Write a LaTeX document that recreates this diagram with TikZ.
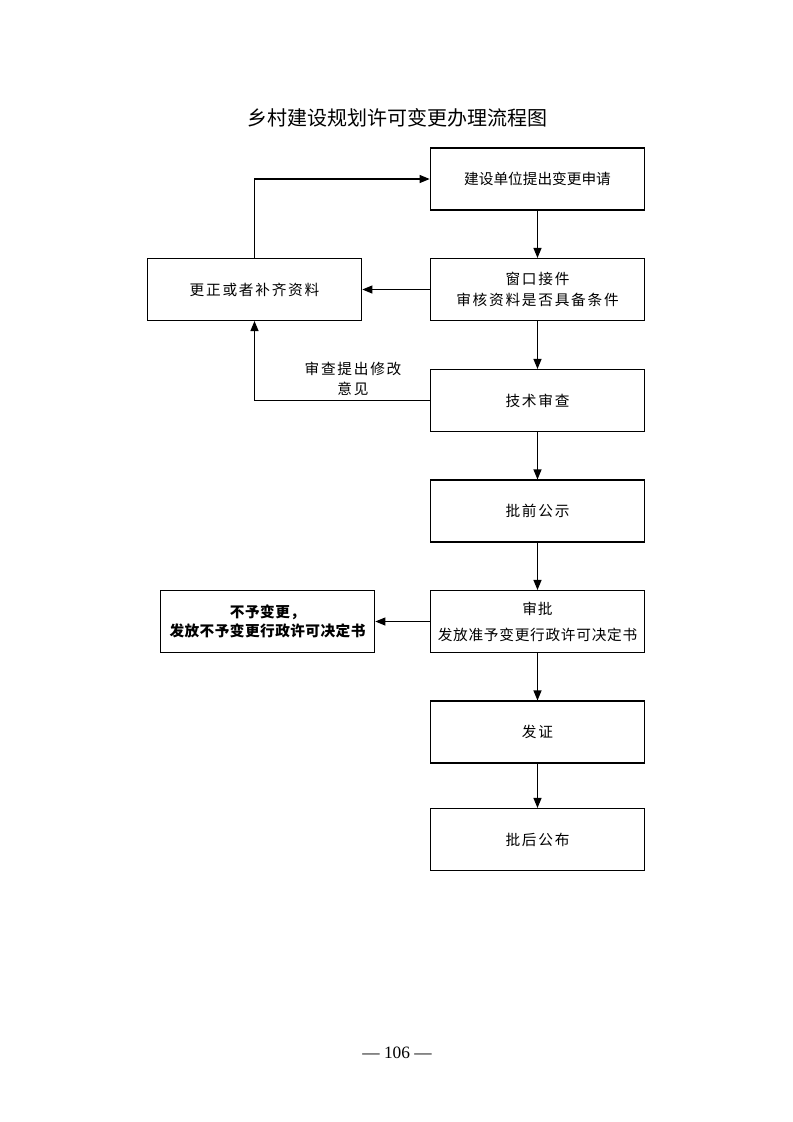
\documentclass[tikz,border=0pt]{standalone}
\usepackage{fontspec}
\setmainfont{Liberation Serif}
\newfontfamily\cjk{Noto Sans CJK SC}
\usetikzlibrary{arrows.meta}

\begin{document}
\begin{tikzpicture}[x=0.75pt,y=-0.75pt,
  flowbox/.style={draw,line width=0.8pt,minimum width=161pt,minimum height=46.5pt,
    align=center,font=\cjk\addfontfeature{LetterSpace=12}\fontsize{11}{15.5}\selectfont},
  flowarrow/.style={line width=0.8pt,-{Triangle[length=7.5pt,width=6pt]}}]
\useasboundingbox (0,0) rectangle (793,1122);
\node[font=\cjk\fontsize{15}{18}\selectfont] (title) at (397,118) {乡村建设规划许可变更办理流程图};

% main column
\node[flowbox,font=\cjk\fontsize{11}{15.5}\selectfont] (apply) at (537.5,179) {建设单位提出变更申请};
\node[flowbox] (check) at (537.5,289.5) {窗口接件\\审核资料是否具备条件};
\node[flowbox] (review) at (537.5,400.5) {技术审查};
\node[flowbox] (notice) at (537.5,511) {批前公示};
\node[flowbox,font=\cjk\addfontfeature{LetterSpace=5}\fontsize{11}{15.5}\selectfont] (approve) at (537.5,621.5) {审批\\[4pt]发放准予变更行政许可决定书};
\node[flowbox] (issue) at (537.5,732) {发证};
\node[flowbox] (publish) at (537.5,839.5) {批后公布};

% side boxes
\node[flowbox] (correct) at (254.5,289.5) {更正或者补齐资料};
\node[flowbox,font=\cjk\bfseries\addfontfeature{LetterSpace=3}\fontsize{11}{14}\selectfont] (refuse) at (267.5,621.5) {不予变更，\\发放不予变更行政许可决定书};
\node[font=\cjk\addfontfeature{LetterSpace=12}\fontsize{11}{15}\selectfont,align=center] (opinion) at (353,379) {审查提出修改\\意见};

\draw[flowarrow] (apply) -- (check);
\draw[flowarrow] (check) -- (review);
\draw[flowarrow] (review) -- (notice);
\draw[flowarrow] (notice) -- (approve);
\draw[flowarrow] (approve) -- (issue);
\draw[flowarrow] (issue) -- (publish);
\draw[flowarrow] (check) -- (correct);
\draw[flowarrow] (correct.north) |- (apply.west);
\draw[flowarrow] (review.west) -| (correct.south);
\draw[flowarrow] (approve) -- (refuse);

\node[font=\fontsize{13}{15}\selectfont] (page) at (397,1053) {— 106 —};
\end{tikzpicture}
\end{document}
